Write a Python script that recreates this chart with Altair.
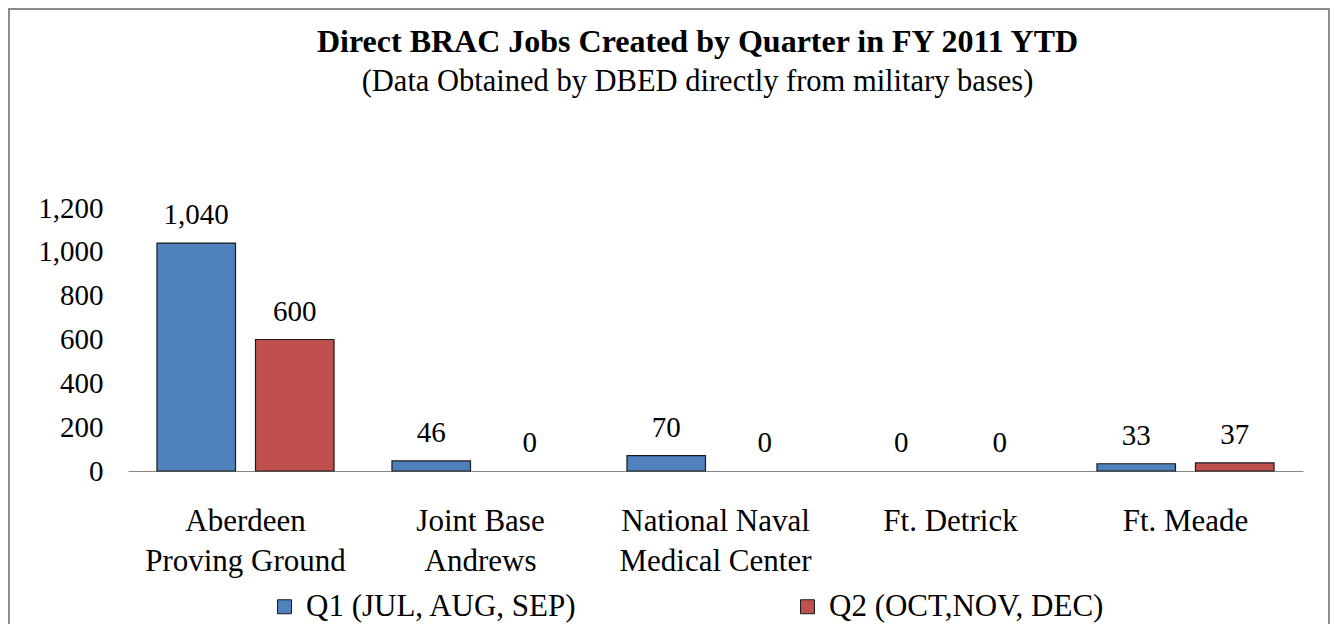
import altair as alt
import pandas as pd

sites = ["Aberdeen\nProving Ground", "Joint Base\nAndrews", "National Naval\nMedical Center",
         "Ft. Detrick", "Ft. Meade"]
quarters = ["Q1 (JUL, AUG, SEP)", "Q2 (OCT,NOV, DEC)"]
q1_jobs = [1040, 46, 70, 0, 33]
q2_jobs = [600, 0, 0, 0, 37]
colors = ["#4F81BD", "#C0504D"]
y_ticks = [0, 200, 400, 600, 800, 1000, 1200]

rows = []
for s, a, b in zip(sites, q1_jobs, q2_jobs):
    rows.append({"site": s, "quarter": quarters[0], "jobs": a})
    rows.append({"site": s, "quarter": quarters[1], "jobs": b})
df = pd.DataFrame(rows)

FONT = "Liberation Serif"
W, H = 1175, 263

x_enc = alt.X("site:N", sort=sites, title=None,
              scale=alt.Scale(paddingInner=0, paddingOuter=0),
              axis=alt.Axis(labelExpr="split(datum.label, '\\n')", labelAngle=0,
                            labelFont=FONT, labelFontSize=31, labelColor="black",
                            labelLineHeight=40, labelPadding=35, ticks=False, labelLimit=500,
                            domainColor="#888888", domainWidth=1.2, labelBaseline="top"))
xo_enc = alt.XOffset("quarter:N", sort=quarters,
                     scale=alt.Scale(paddingInner=0.203, paddingOuter=0.294))
y_enc = alt.Y("jobs:Q", title=None,
              scale=alt.Scale(domain=[0, 1200], nice=False),
              axis=alt.Axis(values=y_ticks, labelExpr="format(datum.value, ',')",
                            grid=False, domain=False, ticks=False,
                            labelFont=FONT, labelFontSize=29, labelColor="black",
                            labelPadding=25))

base = alt.Chart(df).encode(x=x_enc, xOffset=xo_enc, y=y_enc)

bars = base.mark_bar(stroke="#1a1a1a", strokeWidth=1.2).encode(
    color=alt.Color("quarter:N", sort=quarters,
                    scale=alt.Scale(domain=quarters, range=colors),
                    legend=alt.Legend(title=None, orient="none", direction="horizontal",
                                      legendX=141, legendY=383, symbolType="square",
                                      symbolSize=196, symbolStrokeColor="#1a1a1a",
                                      symbolStrokeWidth=1, labelFont=FONT, labelFontSize=31,
                                      labelColor="black", labelOffset=6, columnPadding=214,
                                      labelLimit=500, padding=0)),
    strokeOpacity=alt.condition("datum.jobs > 0", alt.value(1), alt.value(0)),
)

labels = base.mark_text(font=FONT, fontSize=29, color="black", baseline="alphabetic",
                        dy=-19).encode(text=alt.Text("jobs:Q", format=","))

border = alt.Chart(alt.Data(values=[{"a": 1}])).mark_rect(
    fill=None, stroke="#8c8c8c", strokeWidth=2
).encode(x=alt.value(-119), x2=alt.value(1201), y=alt.value(-199), y2=alt.value(600))

chart = alt.layer(border, bars, labels).properties(
    width=W, height=H,
    title=alt.TitleParams(
        "Direct BRAC Jobs Created by Quarter in FY 2011 YTD",
        subtitle="(Data Obtained by DBED directly from military bases)",
        font=FONT, fontSize=32, fontWeight="bold", color="black",
        subtitleFont=FONT, subtitleFontSize=30.5, subtitleColor="black",
        subtitlePadding=8, anchor="middle", dx=-18, offset=-90),
    autosize=alt.AutoSizeParams(type="none"),
    padding={"left": 120, "top": 200, "right": 27, "bottom": 153},
    background="white",
).configure_view(stroke=None)

chart.save("out.html", embed_options={"renderer": "svg", "actions": False})
